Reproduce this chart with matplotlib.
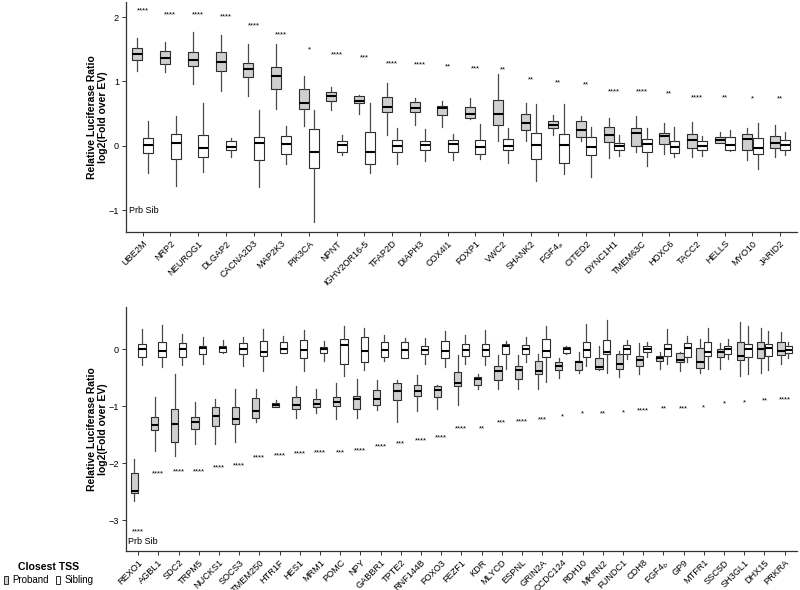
import matplotlib
matplotlib.use("Agg")
import matplotlib.pyplot as plt
from matplotlib.patches import Patch

plt.rcParams['font.family'] = ['Liberation Sans', 'DejaVu Sans']

# ---- top panel: genes up in proband ----
top_genes = ["UBE2M", "NRP2", "NEUROG1", "DLGAP2", "CACNA2D3", "MAP2K3", "PIK3CA", "NPNT",
             "IGHV2OR16-5", "TFAP2D", "DIAPH3", "COX4I1", "FOXP1", "VWC2", "SHANK2", r"FGF4$_a$",
             "CITED2", "DYNC1H1", "TMEM63C", "HOXC6", "TACC2", "HELLS", "MYO10", "JARID2"]

# (whisker low, q1, median, q3, whisker high)
top_proband = [
    (1.16, 1.33, 1.43, 1.52, 1.67), (1.14, 1.27, 1.36, 1.48, 1.62), (0.96, 1.24, 1.33, 1.46, 1.77),
    (0.85, 1.16, 1.31, 1.46, 1.73), (0.77, 1.07, 1.19, 1.29, 1.58), (0.57, 0.88, 1.08, 1.23, 1.59),
    (0.31, 0.58, 0.67, 0.89, 1.09), (0.55, 0.69, 0.77, 0.83, 0.91), (0.50, 0.66, 0.70, 0.77, 0.79),
    (0.17, 0.52, 0.61, 0.76, 0.97), (0.33, 0.52, 0.59, 0.68, 0.74), (0.30, 0.48, 0.59, 0.62, 0.70),
    (0.41, 0.44, 0.49, 0.60, 0.74), (0.07, 0.32, 0.49, 0.72, 1.12), (0.08, 0.24, 0.36, 0.50, 0.67),
    (0.17, 0.27, 0.32, 0.39, 0.48), (0.08, 0.14, 0.25, 0.38, 0.47), (-0.19, 0.06, 0.17, 0.30, 0.44),
    (-0.10, 0.00, 0.20, 0.27, 0.46), (-0.12, 0.03, 0.16, 0.20, 0.35), (-0.17, -0.03, 0.09, 0.19, 0.37),
    (0.04, 0.05, 0.09, 0.13, 0.21), (-0.22, -0.07, 0.11, 0.19, 0.28), (-0.17, -0.03, 0.04, 0.15, 0.33),
]
top_sibling = [
    (-0.42, -0.11, 0.01, 0.12, 0.38), (-0.63, -0.21, 0.04, 0.18, 0.46), (-0.41, -0.18, -0.04, 0.17, 0.66),
    (-0.17, -0.06, -0.02, 0.07, 0.12), (-0.64, -0.22, 0.04, 0.14, 0.56), (-0.29, -0.13, 0.03, 0.16, 0.31),
    (-1.19, -0.34, -0.09, 0.26, 0.55), (-0.15, -0.10, 0.01, 0.08, 0.17), (-0.43, -0.29, -0.10, 0.22, 0.67),
    (-0.28, -0.10, -0.01, 0.09, 0.27), (-0.23, -0.07, 0.01, 0.07, 0.26), (-0.22, -0.09, 0.03, 0.09, 0.18),
    (-0.21, -0.13, -0.02, 0.09, 0.34), (-0.27, -0.07, 0.00, 0.10, 0.28), (-0.54, -0.21, 0.02, 0.20, 0.65),
    (-0.44, -0.26, 0.02, 0.18, 0.65), (-0.49, -0.14, -0.02, 0.14, 0.30), (-0.16, -0.06, 0.00, 0.05, 0.17),
    (-0.32, -0.09, 0.03, 0.10, 0.28), (-0.17, -0.11, -0.02, 0.08, 0.29), (-0.16, -0.07, -0.01, 0.08, 0.16),
    (-0.08, -0.07, 0.01, 0.14, 0.24), (-0.36, -0.12, -0.03, 0.12, 0.35), (-0.14, -0.06, 0.02, 0.09, 0.21),
]
top_stars = ["****", "****", "****", "****", "****", "****", "*", "****", "***", "****", "****", "**",
             "***", "**", "**", "**", "**", "****", "****", "**", "****", "**", "*", "**"]
top_star_y = [2.10, 2.04, 2.03, 2.01, 1.87, 1.72, 1.49, 1.42, 1.36, 1.28, 1.26, 1.22,
              1.20, 1.18, 1.03, 0.98, 0.94, 0.84, 0.84, 0.80, 0.75, 0.75, 0.73, 0.73]

# ---- bottom panel: genes down in proband ----
bot_genes = ["REXO1", "AGBL1", "SDC2", "TRPM5", "NUCKS1", "SOCS3", "TMEM250", "HTR1F", "HES1",
             "MRM1", "POMC", "NPY", "GABBR1", "TPTE2", "RNF144B", "FOXO3", "FEZF1", "KDR", "MLYCD",
             "ESPNL", "GRIN2A", "CCDC124", "RDH10", "MKRN2", "FUNDC1", "CDH8", r"FGF4$_b$", "GP9",
             "MTFR1", "SSC5D", "SH3GL1", "DHX15", "PRKRA"]
bot_proband = [
    (-2.66, -2.53, -2.49, -2.18, -1.93), (-1.78, -1.42, -1.33, -1.18, -0.84), (-1.87, -1.63, -1.31, -1.05, -0.43),
    (-1.66, -1.40, -1.28, -1.19, -0.92), (-1.66, -1.34, -1.17, -1.02, -0.88), (-1.63, -1.32, -1.22, -1.02, -0.70),
    (-1.27, -1.20, -1.08, -0.85, -0.70), (-1.02, -1.02, -0.98, -0.95, -0.89), (-1.21, -1.05, -0.97, -0.83, -0.65),
    (-1.11, -1.02, -0.96, -0.88, -0.70), (-1.22, -0.99, -0.92, -0.83, -0.60), (-1.20, -1.04, -0.87, -0.82, -0.53),
    (-1.07, -0.97, -0.87, -0.72, -0.54), (-1.27, -0.89, -0.73, -0.60, -0.54), (-1.09, -0.82, -0.73, -0.62, -0.46),
    (-1.05, -0.84, -0.72, -0.64, -0.63), (-0.98, -0.64, -0.60, -0.40, -0.10), (-0.70, -0.63, -0.52, -0.48, -0.43),
    (-0.69, -0.54, -0.39, -0.30, -0.10), (-0.70, -0.52, -0.36, -0.29, -0.10), (-0.70, -0.44, -0.38, -0.20, -0.08),
    (-0.50, -0.37, -0.29, -0.22, -0.16), (-0.42, -0.36, -0.23, -0.20, -0.04), (-0.37, -0.35, -0.32, -0.15, 0.05),
    (-0.48, -0.35, -0.26, -0.09, -0.03), (-0.44, -0.30, -0.18, -0.11, 0.11), (-0.35, -0.20, -0.16, -0.12, -0.04),
    (-0.39, -0.22, -0.18, -0.07, -0.04), (-0.42, -0.33, -0.23, 0.02, 0.18), (-0.35, -0.13, -0.04, 0.00, 0.11),
    (-0.47, -0.18, -0.11, 0.13, 0.48), (-0.42, -0.16, 0.01, 0.13, 0.37), (-0.25, -0.10, -0.03, 0.12, 0.30),
]
bot_sibling = [
    (-0.27, -0.13, 0.01, 0.09, 0.36), (-0.32, -0.13, -0.03, 0.12, 0.43), (-0.27, -0.14, 0.00, 0.11, 0.27),
    (-0.25, -0.09, 0.02, 0.06, 0.21), (-0.07, -0.05, 0.02, 0.05, 0.16), (-0.29, -0.09, 0.00, 0.11, 0.21),
    (-0.39, -0.12, -0.05, 0.15, 0.36), (-0.07, -0.07, 0.01, 0.12, 0.23), (-0.38, -0.16, -0.02, 0.16, 0.33),
    (-0.20, -0.06, 0.00, 0.04, 0.15), (-0.47, -0.25, 0.08, 0.18, 0.40), (-0.36, -0.22, -0.03, 0.22, 0.38),
    (-0.20, -0.14, -0.02, 0.13, 0.25), (-0.16, -0.15, -0.02, 0.12, 0.19), (-0.26, -0.08, -0.01, 0.05, 0.19),
    (-0.32, -0.15, -0.03, 0.14, 0.32), (-0.26, -0.11, -0.02, 0.09, 0.25), (-0.27, -0.11, -0.02, 0.09, 0.33),
    (-0.34, -0.09, 0.05, 0.10, 0.15), (-0.23, -0.08, 0.01, 0.08, 0.22), (-0.57, -0.13, -0.03, 0.18, 0.40),
    (-0.09, -0.07, 0.00, 0.04, 0.06), (-0.29, -0.14, -0.02, 0.12, 0.44), (-0.41, -0.08, -0.05, 0.16, 0.51),
    (-0.17, -0.08, 0.01, 0.07, 0.16), (-0.13, -0.05, 0.01, 0.05, 0.13), (-0.26, -0.11, 0.00, 0.09, 0.36),
    (-0.22, -0.14, 0.02, 0.11, 0.23), (-0.35, -0.11, -0.04, 0.12, 0.37), (-0.17, -0.08, 0.00, 0.06, 0.18),
    (-0.44, -0.14, 0.01, 0.09, 0.41), (-0.37, -0.12, 0.02, 0.09, 0.32), (-0.16, -0.07, -0.01, 0.06, 0.12),
]
bot_stars = ["****", "****", "****", "****", "****", "****", "****", "****", "****", "****", "***",
             "****", "****", "***", "****", "****", "****", "**", "***", "****", "***", "*", "*",
             "**", "*", "****", "**", "***", "*", "*", "*", "**", "****"]
bot_star_y = [-3.21, -2.18, -2.16, -2.15, -2.09, -2.05, -1.90, -1.87, -1.84, -1.81, -1.81,
              -1.78, -1.71, -1.66, -1.61, -1.55, -1.40, -1.39, -1.30, -1.27, -1.24, -1.18, -1.14,
              -1.13, -1.11, -1.08, -1.04, -1.04, -1.03, -0.95, -0.94, -0.91, -0.89]

PRB_FILL = "#cfcfcf"
SIB_FILL = "white"
EDGE = "#2b2b2b"


def to_stats(rows):
    return [dict(whislo=r[0], q1=r[1], med=r[2], q3=r[3], whishi=r[4], fliers=[]) for r in rows]


def draw_panel(ax, genes, prb, sib, stars, star_y, ylim, yticks):
    n = len(genes)
    pos = list(range(n))
    for rows, off, fill in [(prb, -0.1875, PRB_FILL), (sib, 0.1875, SIB_FILL)]:
        ax.bxp(to_stats(rows), positions=[p + off for p in pos], widths=0.36,
               showfliers=False, showcaps=False, patch_artist=True,
               boxprops=dict(facecolor=fill, edgecolor=EDGE, linewidth=0.8),
               whiskerprops=dict(color="#4a4a4a", linewidth=0.9),
               medianprops=dict(color="black", linewidth=1.5))
    for x, s, y in zip(pos, stars, star_y):
        ax.text(x, y, s, ha="center", va="center", fontsize=5.7)
    ax.set_xlim(-0.6, n - 0.4)
    ax.set_ylim(*ylim)
    ax.set_yticks(yticks)
    ax.set_xticks(pos)
    ax.set_xticklabels(genes, rotation=45, ha="right", rotation_mode="anchor", fontsize=6.6)
    ax.tick_params(axis="y", labelsize=6.6, length=3, width=0.7, pad=2, color="#333333")
    ax.tick_params(axis="x", length=3, width=0.7, pad=2, color="#333333")
    for side in ["top", "right"]:
        ax.spines[side].set_visible(False)
    for side in ["left", "bottom"]:
        ax.spines[side].set_linewidth(0.9)
        ax.spines[side].set_color("#333333")
    ax.set_ylabel("Relative Luciferase Ratio\nlog2(Fold over EV)", fontsize=7.5,
                  fontweight="bold", linespacing=1.1)
    ax.yaxis.set_label_coords(-0.027, 0.5)


fig = plt.figure(figsize=(8, 5.9), dpi=100)
ax1 = fig.add_axes([0.1575, 0.6068, 0.8385, 0.3898])
ax2 = fig.add_axes([0.1575, 0.0661, 0.8385, 0.4141])

draw_panel(ax1, top_genes, top_proband, top_sibling, top_stars, top_star_y,
           (-1.34, 2.236), [-1, 0, 1, 2])
draw_panel(ax2, bot_genes, bot_proband, bot_sibling, bot_stars, bot_star_y,
           (-3.54, 0.747), [-3, -2, -1, 0])

ax1.text(-0.5, -1.0, "Prb Sib", ha="left", va="center", fontsize=6.5)
ax2.text(-0.5, -3.38, "Prb Sib", ha="left", va="center", fontsize=6.5)

handles = [Patch(facecolor=PRB_FILL, edgecolor=EDGE, linewidth=0.7),
           Patch(facecolor=SIB_FILL, edgecolor=EDGE, linewidth=0.7)]
leg = fig.legend(handles, ["Proband", "Sibling"], title="Closest TSS", loc="lower left",
                 bbox_to_anchor=(0.0, 0.002), ncol=2, frameon=False, fontsize=7,
                 handlelength=0.4, handleheight=0.9, handletextpad=0.45, columnspacing=0.8,
                 borderaxespad=0.2, borderpad=0.2, labelspacing=0.3,
                 title_fontproperties={"weight": "bold", "size": 7.6})

fig.savefig("out.png", dpi=100)
